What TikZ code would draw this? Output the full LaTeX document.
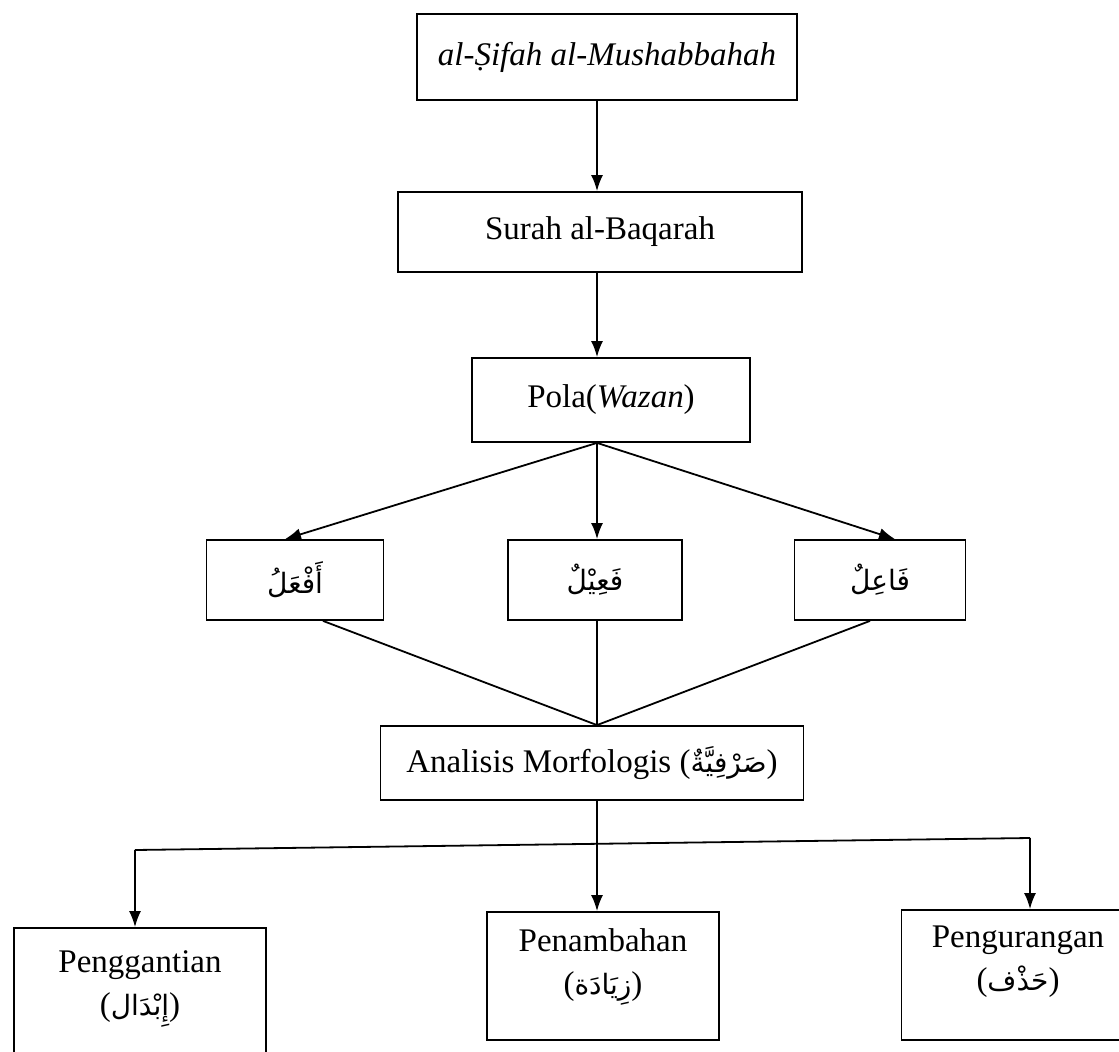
\documentclass[tikz,border=0pt]{standalone}
\usepackage{fontspec}
\setmainfont{Liberation Serif}
\newfontfamily\arabicfont[Script=Arabic]{DejaVu Sans}
\TeXXeTstate=1
\usetikzlibrary{arrows.meta}
\newcommand{\artxt}[1]{{\arabicfont\fontsize{28}{32}\selectfont\beginR #1\endR}}
\begin{document}
\begin{tikzpicture}[x=1pt,y=-1pt,
  box/.style={draw, line width=1.8pt, inner sep=0pt, align=center,
    font=\fontsize{33}{38}\selectfont},
  lbl/.style={inner sep=0pt, align=center, font=\fontsize{33}{43}\selectfont},
  conn/.style={line width=1.8pt},
  arr/.style={conn, -{Latex[length=16pt,width=12pt]}}]
\useasboundingbox[fill=white] (0,0) rectangle (1119,1052);

\node[box, minimum width=380pt, minimum height=86pt] (top) at (607,57) {\itshape al-Ṣifah al-Mushabbahah};
\node[box, minimum width=404pt, minimum height=80pt] (surah) at (600,232) {Surah al-Baqarah};
\node[box, minimum width=278pt, minimum height=84pt] (pola) at (611,400) {Pola(\textit{Wazan})};
\node[box, minimum width=177pt, minimum height=80pt] (af) at (295,580) {\artxt{أَفْعَلُ}};
\node[box, minimum width=174pt, minimum height=80pt] (fa) at (595,580) {\artxt{فَعِيْلٌ}};
\node[box, minimum width=171pt, minimum height=80pt] (fi) at (880,580) {\artxt{فَاعِلٌ}};
\node[box, minimum width=423pt, minimum height=74pt] (ana) at (592,763) {Analisis Morfologis (\artxt{صَرْفِيَّةٌ})};

\node[box, minimum width=252pt, minimum height=140pt] (pg) at (140,998) {};
\node[box, minimum width=232pt, minimum height=128pt] (pn) at (603,976) {};
\node[box, minimum width=233pt, minimum height=130pt] (pr) at (1018,975) {};
\node[lbl] (pgt) at ([yshift=-62pt]pg.north) {Penggantian\\(\artxt{إِبْدَال})};
\node[lbl] (pnt) at ([yshift=-56pt]pn.north) {Penambahan\\(\artxt{زِيَادَة})};
\node[lbl] (prt) at ([yshift=-53pt]pr.north) {Pengurangan\\(\artxt{حَذْف})};

\draw[arr] (top.south -| 597,0) -- (surah.north -| 597,0);
\draw[arr] (surah.south -| 597,0) -- (pola.north -| 597,0);
\draw[arr] (pola.south -| 597,0) -- ([xshift=-10pt]af.north);
\draw[arr] (pola.south -| 597,0) -- (fa.north -| 597,0);
\draw[arr] (pola.south -| 597,0) -- ([xshift=15pt]fi.north);

\coordinate (m) at (597,726);
\draw[conn] ([xshift=28pt]af.south) -- (ana.north -| m);
\draw[conn] (fa.south -| m) -- (ana.north -| m);
\draw[conn] ([xshift=-10pt]fi.south) -- (ana.north -| m);

\coordinate (jl) at (135,850);
\coordinate (jm) at (597,844);
\coordinate (jr) at (1030,838);
\draw[conn] (ana.south -| jm) -- (jm);
\draw[conn] (jl) -- (jr);
\draw[arr] (jl) -- (pg.north -| jl);
\draw[arr] (jm) -- (pn.north -| jm);
\draw[arr] (jr) -- (pr.north -| jr);
\end{tikzpicture}
\end{document}
